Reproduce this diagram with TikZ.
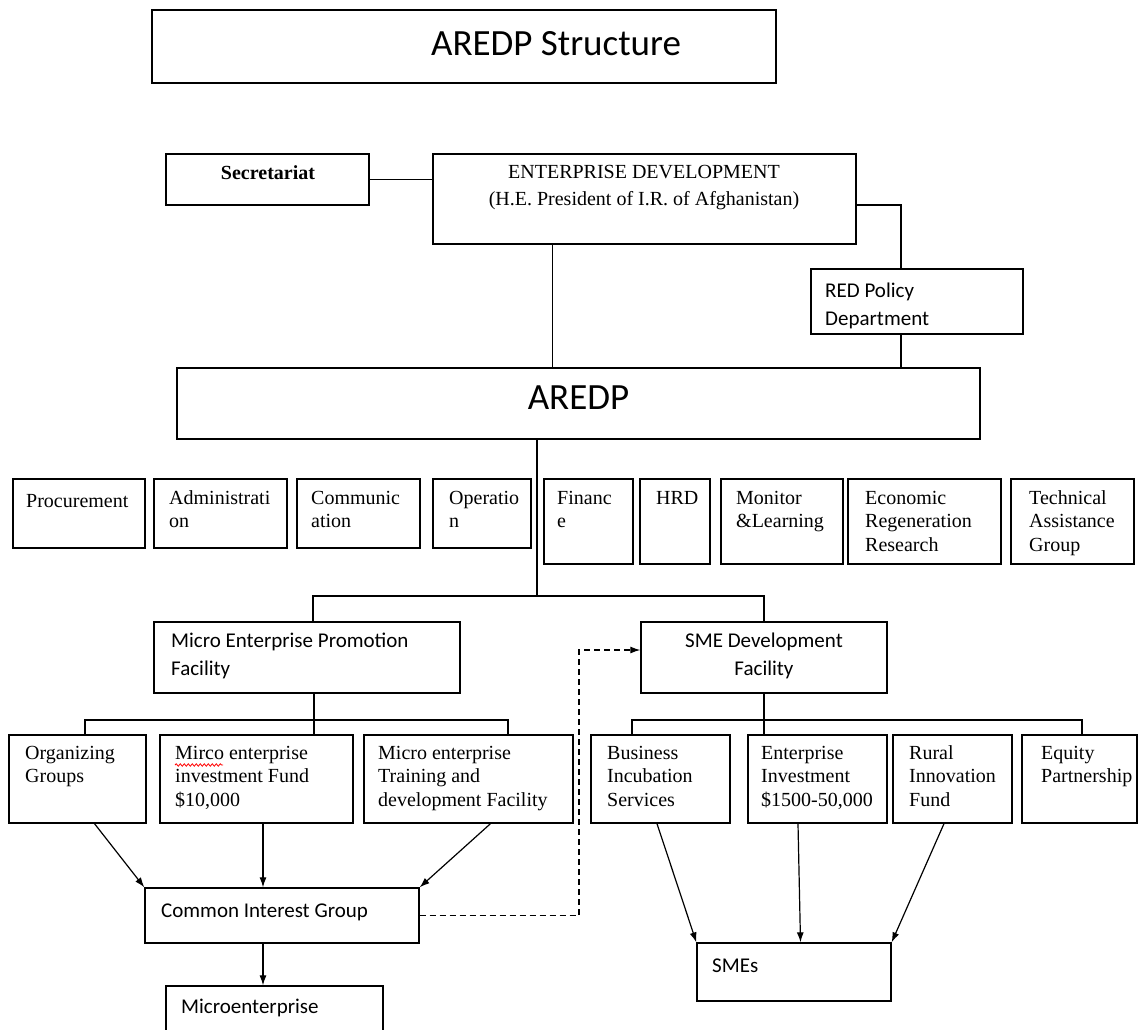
\documentclass[tikz,border=0pt]{standalone}
\usepackage{fontspec}
\setmainfont{Liberation Serif}
\newfontfamily\calib{Carlito}
\usetikzlibrary{arrows.meta,fit,decorations.pathmorphing}
\newcommand\lnsl[1]{\begin{tabular}[t]{@{}l@{}}#1\end{tabular}}
\newcommand\lnsc[1]{\begin{tabular}[t]{@{}c@{}}#1\end{tabular}}
\begin{document}
\begin{tikzpicture}[x=1pt,y=-1pt,
  bx/.style={draw, line width=1.3pt, inner sep=0pt, fit={#1}},
  ser/.style={font=\fontsize{20}{23.5}\selectfont, inner sep=0pt, anchor=base west},
  sans/.style={font=\calib\fontsize{21}{28}\selectfont, inner sep=0pt, anchor=base west},
  big/.style={font=\calib\fontsize{37}{40}\selectfont, inner sep=0pt, anchor=base},
  ln/.style={line width=1.3pt},
  arr/.style={line width=1.2pt, -{Latex[length=10pt,width=7pt]}},
  dsh/.style={line width=1.2pt, dash pattern=on 6pt off 4pt, -{Latex[length=10pt,width=7pt]}}
]
\clip (0,0) rectangle (1140,1030);
\fill[white] (0,0) rectangle (1140,1030);

% title
\node[bx={(152,10) (776,83)}] (title) {};
\node[big] (titlet) at (556,56) {AREDP Structure};

% top level
\node[bx={(166,154) (369,205)}] (sec) {};
\node[ser, anchor=base] (sect) at (268,179) {\bfseries Secretariat};
\node[bx={(433,154) (856,244)}] (ed) {};
\node[ser, anchor=base, font=\fontsize{20}{28}\selectfont] (edt) at (644,178) {\lnsc{ENTERPRISE DEVELOPMENT\\(H.E. President of I.R. of Afghanistan)}};
\node[bx={(811,269) (1023,334)}] (red) {};
\node[sans] (redt) at (825,297) {\lnsl{RED Policy\\Department}};
\node[bx={(177,368) (980,439)}] (ared) {};
\node[big] (aredt) at (578.5,409) {AREDP};

% departments
\node[bx={(13,479) (145,548)}] (proc) {};
\node[ser] (proct) at (26,507) {Procurement};
\node[bx={(154,479) (287,548)}] (adm) {};
\node[ser] (admt) at (169,504) {\lnsl{Administrati\\on}};
\node[bx={(297,479) (420,548)}] (com) {};
\node[ser] (comt) at (311,504) {\lnsl{Communic\\ation}};
\node[bx={(433,479) (531,548)}] (ope) {};
\node[ser] (opet) at (449,504) {\lnsl{Operatio\\n}};
\node[bx={(544,479) (633,564)}] (fin) {};
\node[ser] (fint) at (557,504) {\lnsl{Financ\\e}};
\node[bx={(640,479) (710,564)}] (hrd) {};
\node[ser] (hrdt) at (656,504) {HRD};
\node[bx={(721,479) (843,564)}] (mon) {};
\node[ser] (mont) at (736,504) {\lnsl{Monitor\\\&Learning}};
\node[bx={(848,479) (1001,564)}] (eco) {};
\node[ser] (ecot) at (865,504) {\lnsl{Economic\\Regeneration\\Research}};
\node[bx={(1011,479) (1134,564)}] (tec) {};
\node[ser] (tect) at (1029,504) {\lnsl{Technical\\Assistance\\Group}};

% facilities
\node[bx={(154,622) (460,693)}] (mepf) {};
\node[sans] (mepft) at (171,647) {\lnsl{Micro Enterprise Promotion\\Facility}};
\node[bx={(641,622) (887,693)}] (smed) {};
\node[sans, anchor=base] (smedt) at (764,647) {\lnsc{SME Development\\Facility}};

% row 3
\node[bx={(9,735) (146,823)}] (org) {};
\node[ser] (orgt) at (25,759) {\lnsl{Organizing\\Groups}};
\node[bx={(160,735) (353,823)}] (mif) {};
\node[ser] (mift) at (175,759) {\lnsl{Mirco enterprise\\investment Fund\\\$10,000}};
\node[bx={(364,735) (573,823)}] (mtd) {};
\node[ser] (mtdt) at (378,759) {\lnsl{Micro enterprise\\Training and\\development Facility}};
\node[bx={(591,735) (730,823)}] (bis) {};
\node[ser] (bist) at (607,759) {\lnsl{Business\\Incubation\\Services}};
\node[bx={(748,735) (887,823)}] (ein) {};
\node[ser] (eint) at (761,759) {\lnsl{Enterprise\\Investment\\\$1500-50,000}};
\node[bx={(893,735) (1012,823)}] (rif) {};
\node[ser] (rift) at (909,759) {\lnsl{Rural\\Innovation\\Fund}};
\node[bx={(1022,735) (1137,823)}] (eqp) {};
\node[ser] (eqpt) at (1041,759) {\lnsl{Equity\\Partnership}};

% bottom
\node[bx={(145,888) (419,943)}] (cig) {};
\node[sans] (cigt) at (161,917) {Common Interest Group};
\node[bx={(166,986) (383,1045)}] (mic) {};
\node[sans] (mict) at (181,1013) {Microenterprise};
\node[bx={(697,943) (891,1001)}] (smes) {};
\node[sans] (smest) at (712,972) {SMEs};

% spell-check mark
\draw[red, line width=0.8pt, decorate, decoration={snake, amplitude=1.2pt, segment length=4pt}] (175,765) -- (223,765);

% connectors
\coordinate (j1) at (537,596);
\coordinate (j2) at (314,720);
\coordinate (j3) at (764,720);
\coordinate (d1) at (579,650);

\draw[ln] (sec.east) -- (ed.west |- sec.east);
\draw[ln] ([yshift=-6pt]ed.east) -| ([xshift=-16pt]red.north);
\draw[ln] ([xshift=-16pt]red.south) -- ([xshift=-16pt]red.south |- ared.north);
\draw[ln] ([xshift=-92pt]ed.south) -- ([xshift=-92pt]ed.south |- ared.north);
\draw[ln] ([xshift=-41.5pt]ared.south) -- (j1);
\draw[ln] ([xshift=6pt]mepf.north) |- (j1) -| (smed.north);
\draw[ln] ([xshift=7pt]mepf.south) -- ([xshift=7pt]mepf.south |- mif.north);
\draw[ln] ([xshift=7.5pt]org.north) |- (j2) -| ([xshift=39.5pt]mtd.north);
\draw[ln] (smed.south) -- (smed.south |- ein.north);
\draw[ln] ([xshift=-28.5pt]bis.north) |- (j3) -| ([xshift=2.5pt]eqp.north);

\draw[arr] ([xshift=17pt]org.south) -- (cig.north west);
\draw[arr] ([xshift=6.5pt]mif.south) -- ([xshift=6.5pt]mif.south |- cig.north);
\draw[arr] ([xshift=22pt]mtd.south) -- (cig.north east);
\draw[arr] ([xshift=-19pt]cig.south) -- ([xshift=-19pt]cig.south |- mic.north);
\draw[arr] ([xshift=-3.5pt]bis.south) -- (smes.north west);
\draw[arr] ([xshift=-19.5pt]ein.south) -- ([xshift=6.5pt]smes.north);
\draw[arr] ([xshift=-8.5pt]rif.south) -- (smes.north east);
\draw[dsh] (cig.east) -| (d1) -- (d1 -| smed.west);
\end{tikzpicture}
\end{document}
